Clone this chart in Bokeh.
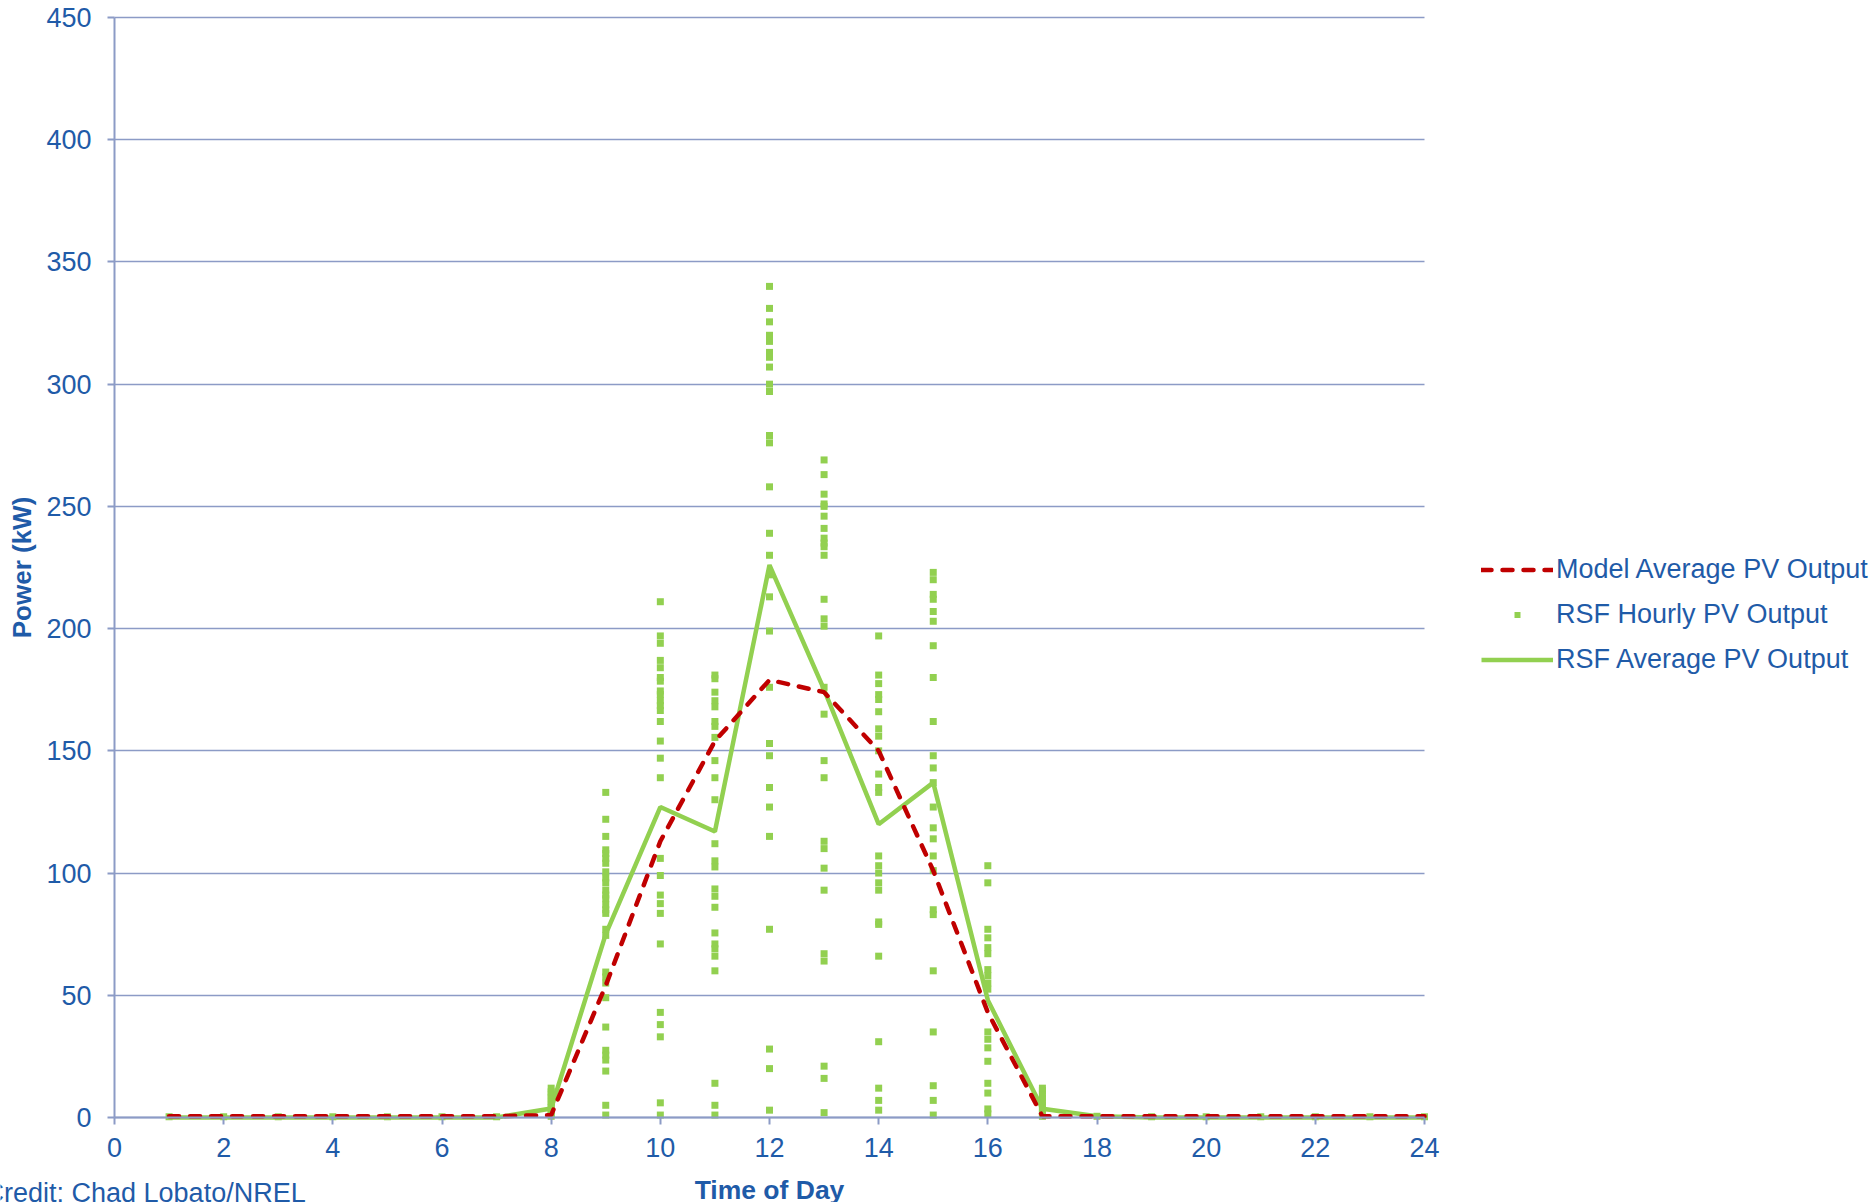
from bokeh.plotting import figure
from bokeh.models import (Legend, LegendItem, Label, FixedTicker, Range1d, LinearAxis, Grid)
from bokeh.embed import file_html
from bokeh.resources import INLINE

# ---------------- data ----------------
hours = [1, 2, 3, 4, 5, 6, 7, 8, 9, 10, 11, 12, 13, 14, 15, 16, 17, 18, 19, 20, 21, 22, 23, 24]

model_avg = [0.5, 0.5, 0.5, 0.5, 0.5, 0.5, 0.5, 1, 54, 113, 154, 179, 174, 150, 101, 43,
             0.5, 0.5, 0.5, 0.5, 0.5, 0.5, 0.5, 0.5]

rsf_avg = [0, 0, 0, 0, 0, 0, 0, 3.7, 75, 127, 117, 226, 175, 120, 137, 48,
           3.6, 0.5, 0, 0, 0, 0, 0, 0]

# RSF hourly observations (kW) for each hour of the day
rsf_h01 = [0.3]
rsf_h02 = [0.3]
rsf_h03 = [0.3]
rsf_h04 = [0.3]
rsf_h05 = [0.3]
rsf_h06 = [0.3]
rsf_h07 = [0.3]
rsf_h08 = [0.5, 1.5, 2.8, 4, 5.2, 6.5, 8, 9.3, 10.5, 12]
rsf_h09 = [133, 122, 115, 109.5, 108, 106, 104, 100.5, 98, 96, 93, 91, 89.5, 87, 85, 83.5,
           77, 74.5, 59.5, 57.5, 55, 49, 37, 27.5, 25.5, 23.5, 19, 5, 1]
rsf_h10 = [211, 197, 194, 187, 184, 180, 178.5, 174.5, 173, 170.5, 168.5, 166.5, 162, 154,
           147, 139, 106, 99, 91, 87.5, 83.5, 71, 43, 38, 33, 6, 1]
rsf_h11 = [181, 179.5, 174, 170.5, 168, 162, 160, 155.5, 146, 139, 130, 112, 105, 102.5,
           93.5, 90.5, 86, 75.5, 71, 69, 66, 60, 14, 5, 1]
rsf_h12 = [340, 331, 325.5, 320, 317.5, 313, 311, 307, 300, 297, 279, 276, 258, 239, 230,
           222, 213, 199, 176, 153, 148, 135, 127, 115, 77, 28, 20, 3]
rsf_h13 = [269, 263, 255, 251, 250, 246, 241, 237, 235, 233.5, 230, 212, 204, 201, 176,
           165, 146, 139, 113, 110, 102, 93, 67, 64, 21, 16, 2]
rsf_h14 = [197, 181, 177.5, 173, 171, 166, 159, 156, 150, 140.5, 135, 133, 107, 103, 100,
           96, 93, 80, 79, 66, 31, 12, 7, 3]
rsf_h15 = [223, 220, 214, 212, 207, 203, 193, 180, 162, 148, 143, 137, 127, 118.5, 114,
           107, 101, 85, 83, 60, 35, 13, 7, 1]
rsf_h16 = [103, 96, 77, 73.5, 69.5, 67, 60.5, 58, 55, 52.5, 35, 32, 28.5, 23, 14, 10, 3.5, 1.5]
rsf_h17 = [0.5, 2, 3.5, 5, 6.5, 8, 9.5, 11, 12]
rsf_h18 = [0.5]
rsf_h19 = [0.3]
rsf_h20 = [0.3]
rsf_h21 = [0.3]
rsf_h22 = [0.3]
rsf_h23 = [0.3]
rsf_h24 = [0.3]

rsf_hourly = [rsf_h01, rsf_h02, rsf_h03, rsf_h04, rsf_h05, rsf_h06, rsf_h07, rsf_h08,
              rsf_h09, rsf_h10, rsf_h11, rsf_h12, rsf_h13, rsf_h14, rsf_h15, rsf_h16,
              rsf_h17, rsf_h18, rsf_h19, rsf_h20, rsf_h21, rsf_h22, rsf_h23, rsf_h24]

x_ticks = [0, 2, 4, 6, 8, 10, 12, 14, 16, 18, 20, 22, 24]
y_ticks = [0, 50, 100, 150, 200, 250, 300, 350, 400, 450]

legend_labels = ["Model Average PV Output", "RSF Hourly PV Output", "RSF Average PV Output"]
x_title = "Time of Day"
y_title = "Power (kW)"
credit = "Credit: Chad Lobato/NREL"

# ---------------- layout / styling ----------------
FONT = "Liberation Sans"
TXT = "#1F5BA8"
AXIS = "#8C9BC6"
GREEN = "#92D050"
RED = "#C00000"

W, H = 1873, 1202
PLOT_L, PLOT_R, PLOT_T, PLOT_B = 114, 1424, 17, 1117   # pixel box of the 0..24 x 0..450 area
X0, X1 = x_ticks[0], x_ticks[-1]
Y0, Y1 = y_ticks[0], y_ticks[-1]
kx = (X1 - X0) / (PLOT_R - PLOT_L)
ky = (Y1 - Y0) / (PLOT_B - PLOT_T)
x_range = Range1d(X0 - PLOT_L * kx, X1 + (W - PLOT_R) * kx)
y_range = Range1d(Y0 - (H - PLOT_B) * ky, Y1 + PLOT_T * ky)

sc_x, sc_y = [], []
for h, vals in zip(hours, rsf_hourly):
    for v in vals:
        sc_x.append(h)
        sc_y.append(v)

p = figure(width=W, height=H, min_border=0,
           x_range=x_range, y_range=y_range,
           x_axis_location=None, y_axis_location=None,
           output_backend="svg", toolbar_location=None)
p.outline_line_color = None
p.background_fill_color = "white"
p.border_fill_color = "white"
p.grid.visible = False

# horizontal grid lines limited to the 0..24 span
try:
    yg = Grid(dimension=1, ticker=FixedTicker(ticks=y_ticks), cross_bounds=(X0, X1),
              grid_line_color=AXIS, grid_line_width=1.6)
    p.add_layout(yg)
except Exception:
    p.segment(x0=[X0] * len(y_ticks), x1=[X1] * len(y_ticks), y0=y_ticks, y1=y_ticks,
              line_color=AXIS, line_width=1.6)

xaxis = LinearAxis(fixed_location=0, bounds=(X0, X1), ticker=FixedTicker(ticks=x_ticks))
yaxis = LinearAxis(fixed_location=0, bounds=(Y0, Y1), ticker=FixedTicker(ticks=y_ticks))
for ax in (xaxis, yaxis):
    ax.axis_line_color = AXIS
    ax.axis_line_width = 2
    ax.major_tick_line_color = AXIS
    ax.major_tick_line_width = 2
    ax.major_tick_out = 7
    ax.major_tick_in = 0
    ax.minor_tick_line_color = None
    ax.major_label_text_font = FONT
    ax.major_label_text_font_size = "27px"
    ax.major_label_text_color = TXT
xaxis.major_label_standoff = 13
yaxis.major_label_standoff = 16
yaxis.axis_label = y_title
yaxis.axis_label_text_font = FONT
yaxis.axis_label_text_font_size = "26px"
yaxis.axis_label_text_font_style = "bold"
yaxis.axis_label_text_color = TXT
yaxis.axis_label_standoff = 6
p.add_layout(xaxis, "below")
p.add_layout(yaxis, "left")

scat = p.scatter(sc_x, sc_y, marker="square", size=7, fill_color=GREEN, line_color=None)
green = p.line(hours, rsf_avg, line_color=GREEN, line_width=4.5)
red = p.line(hours, model_avg, line_color=RED, line_width=4.5, line_dash="10 11", line_cap="round")

p.add_layout(Label(x=(X0 + X1) / 2, y=13, x_units="data", y_units="screen", text=x_title,
                   text_align="center", text_baseline="alphabetic",
                   text_font=FONT, text_font_size="26.5px", text_font_style="bold",
                   text_color=TXT))
p.add_layout(Label(x=-16, y=10, x_units="screen", y_units="screen", text=credit,
                   text_align="left", text_baseline="alphabetic",
                   text_font=FONT, text_font_size="27px", text_color=TXT))

legend = Legend(items=[LegendItem(label=legend_labels[0], renderers=[red]),
                       LegendItem(label=legend_labels[1], renderers=[scat]),
                       LegendItem(label=legend_labels[2], renderers=[green])],
                location=(1481, 527), orientation="vertical",
                glyph_width=72, glyph_height=15, label_standoff=3,
                spacing=14, padding=0, margin=0,
                label_text_font=FONT, label_text_font_size="27px", label_text_color=TXT,
                border_line_color=None, background_fill_alpha=0)
p.add_layout(legend, "center")

open("out.html", "w").write(file_html(p, INLINE))
